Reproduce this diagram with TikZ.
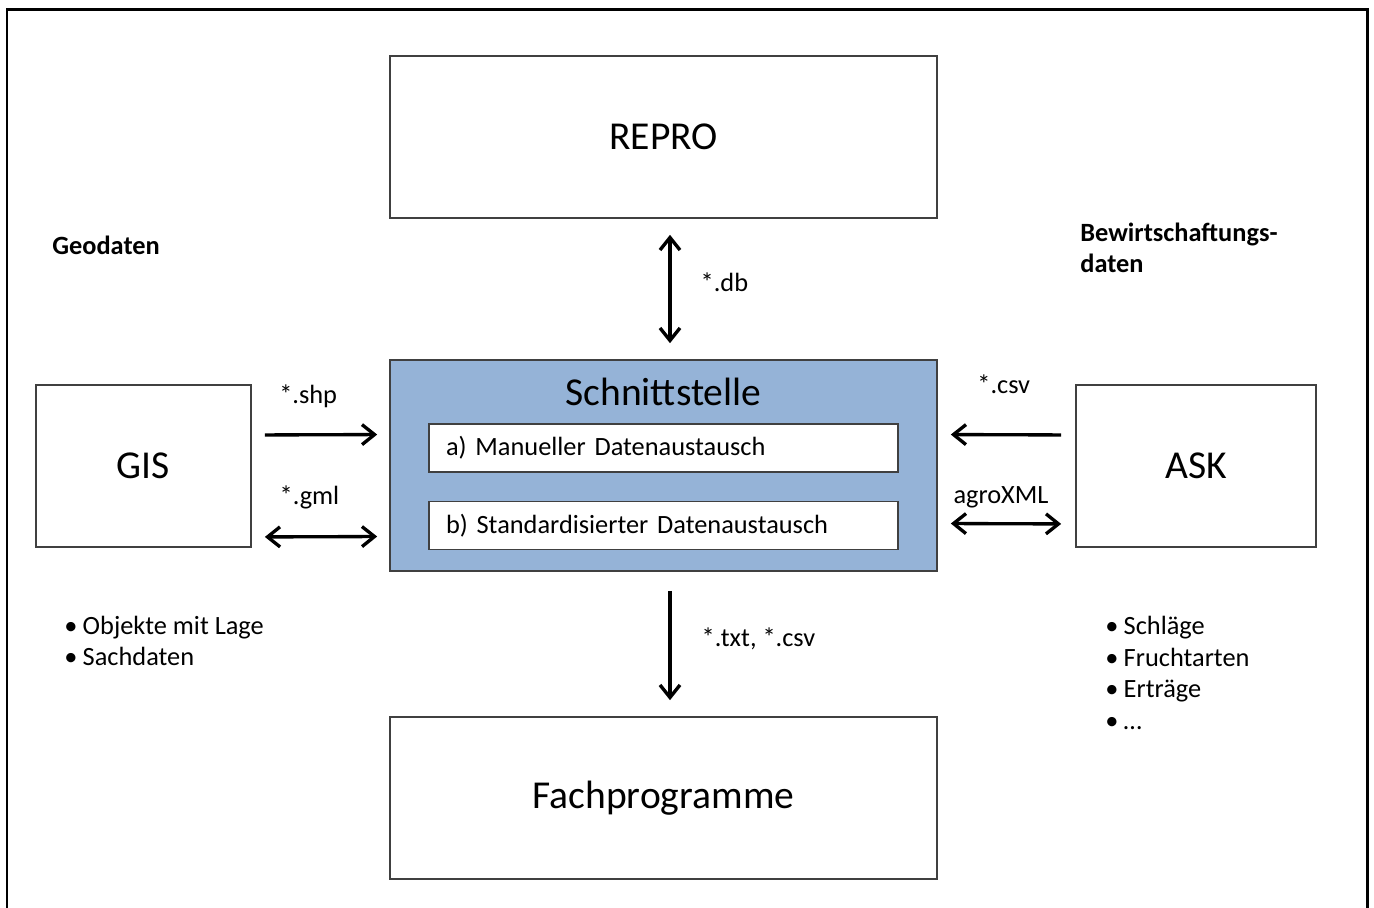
\documentclass[tikz,border=0pt]{standalone}
\usepackage{fontspec}
\setmainfont{Carlito}
\usetikzlibrary{arrows.meta,positioning}
\definecolor{schnittblau}{RGB}{149,179,215}
\definecolor{rahmengrau}{RGB}{64,64,64}

\begin{document}
\begin{tikzpicture}[x=0.02cm, y=-0.02cm, >={Straight Barb[length=2.5mm,width=4mm]}]

    \tikzset{%
    block/.style={
        draw=rahmengrau,
        line width=1pt,
        fill=white,
        minimum height=3.24cm,
        font=\fontsize{22.5}{27}\selectfont
        },
    sub block/.style={
        draw=rahmengrau,
        line width=0.9pt,
        fill=white,
        inner xsep=0.34cm,
        text width=8.7cm,
        align=left,
        minimum height=0.96cm,
        font=\fontsize{15}{18}\selectfont
        },
    file label/.style={font=\fontsize{15}{18}\selectfont, inner sep=0pt},
    head text/.style={font=\bfseries\fontsize{15}{18}\selectfont, inner sep=0pt, align=left},
    bullet list/.style={font=\fontsize{15}{18}\selectfont, inner sep=0pt, align=left},
    data arrow/.style={line width=1.9pt},
    }

    \useasboundingbox (0,0) rectangle (1374,908);

    % Outer frame (open at the bottom)
    \draw [line width=1.7pt] (7,908) -- (7,10) -- (1367,10) -- (1367,908);

    % Main boxes
    \node [block, minimum width=10.94cm] (repro) at (663.5,137) {REPRO};
    \node [block, fill=schnittblau, minimum width=10.94cm, minimum height=4.22cm] (schnitt) at (663.5,465.5) {};
    \node [block, minimum width=10.94cm] (fach) at (663.5,798) {Fachprogramme};
    \node [block, minimum width=4.3cm] (gis) at (143.5,466) {GIS};
    \node [block, minimum width=4.8cm] (ask) at (1196,466) {ASK};

    % Inside the interface box
    \node [font=\fontsize{22.5}{27}\selectfont] (schnitt-titel) at (663.5,392) {Schnittstelle};
    \node [sub block] (manuell) at (663.5,448) {a) Manueller Datenaustausch};
    \node [sub block, below=0.56cm of manuell] (standard) {b) Standardisierter Datenaustausch};

    % Vertical connections
    \draw [data arrow, <->, shorten <=0.32cm, shorten >=0.32cm] ([xshift=0.13cm]repro.south) -- ([xshift=0.13cm]schnitt.north)
    node [file label, midway, right=0.58cm, yshift=0.14cm] (db) {*.db};
    \draw [data arrow, ->, shorten <=0.38cm, shorten >=0.32cm] ([xshift=0.13cm]schnitt.south) -- ([xshift=0.13cm]fach.north)
    node [file label, midway, right=0.6cm, yshift=0.11cm] (txt) {*.txt, *.csv};

    % GIS side
    \draw [data arrow, ->, shorten <=0.26cm, shorten >=0.24cm] ([yshift=0.62cm]gis.east) -- ([yshift=0.62cm]schnitt.west)
    node [file label, pos=0.41, yshift=0.78cm] (shp) {*.shp};
    \draw [data arrow, <->, shorten <=0.26cm, shorten >=0.24cm] ([yshift=-1.42cm]gis.east) -- ([yshift=-1.42cm]schnitt.west)
    node [file label, pos=0.42, yshift=0.78cm] (gml) {*.gml};

    % ASK side
    \draw [data arrow, ->, shorten <=0.28cm, shorten >=0.26cm] ([yshift=0.62cm]ask.west) -- ([yshift=0.62cm]schnitt.east)
    node [file label, pos=0.52, yshift=1.02cm] (csv) {*.csv};
    \draw [data arrow, <->, shorten <=0.26cm, shorten >=0.28cm] ([yshift=-1.16cm]schnitt.east) -- ([yshift=-1.16cm]ask.west)
    node [file label, pos=0.46, yshift=0.52cm] (xml) {agroXML};

    % Headings and lists
    \node [head text, anchor=west] (geodaten) at (52,245) {Geodaten};
    \node [head text, anchor=west] (bewirtschaftung) at (1080,248) {Bewirtschaftungs-\\daten};
    \node [bullet list, anchor=west] (geo-liste) at (64,641) {•\hspace{0.2em}Objekte mit Lage\\•\hspace{0.2em}Sachdaten};
    \node [bullet list, anchor=west] (ask-liste) at (1105,673) {•\hspace{0.2em}Schläge\\•\hspace{0.2em}Fruchtarten\\•\hspace{0.2em}Erträge\\•\hspace{0.2em}…};

\end{tikzpicture}
\end{document}
